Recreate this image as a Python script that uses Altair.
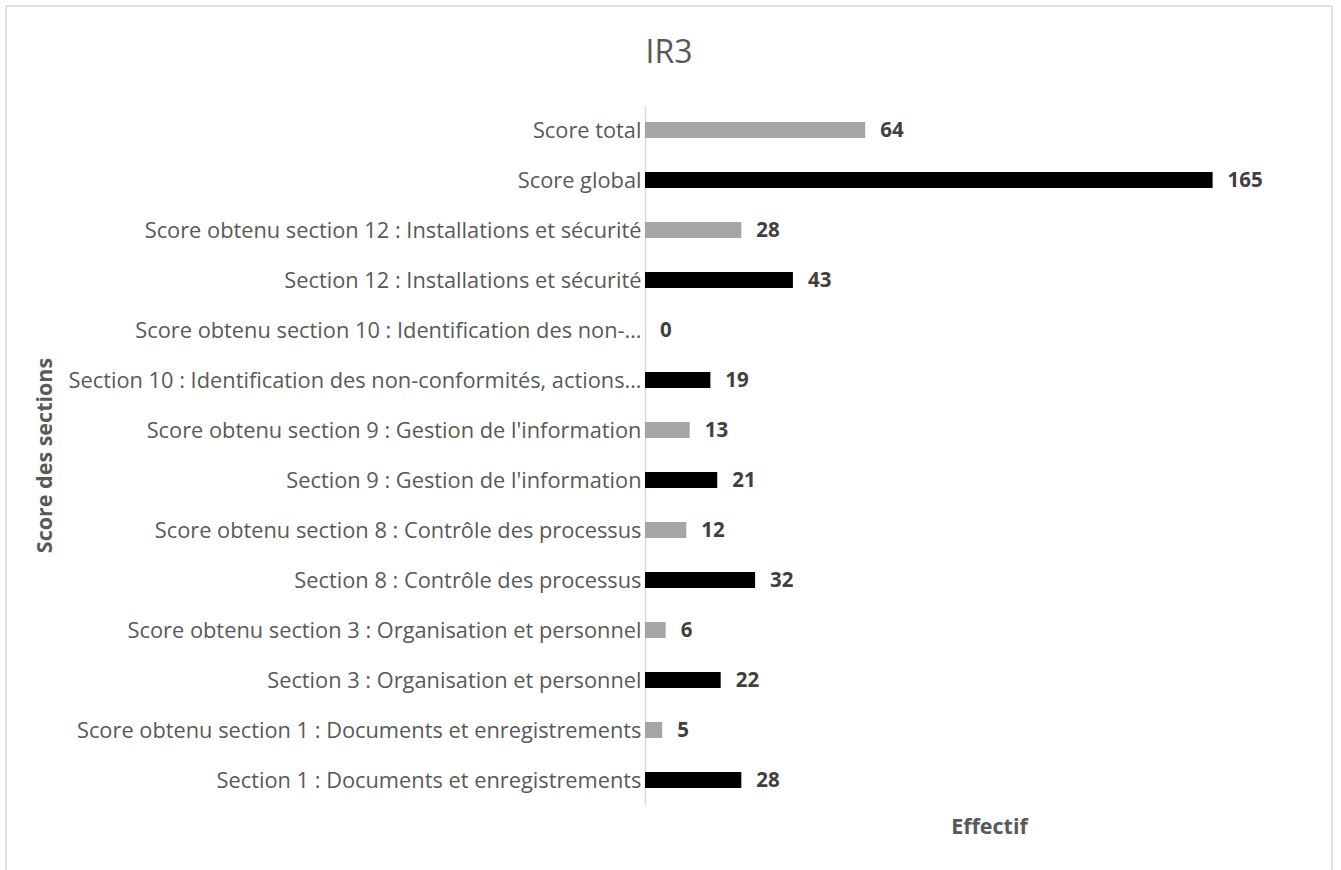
import altair as alt
import pandas as pd

categories = [
    "Score total",
    "Score global",
    "Score obtenu section 12 : Installations et sécurité ",
    "Section 12 : Installations et sécurité",
    "Score obtenu section 10 : Identification des non-…",
    "Section 10 : Identification des non-conformités, actions…",
    "Score obtenu section 9 : Gestion de l'information",
    "Section 9 : Gestion de l'information",
    "Score obtenu section 8 : Contrôle des processus",
    "Section 8 : Contrôle des processus",
    "Score obtenu section 3 : Organisation et personnel",
    "Section 3 : Organisation et personnel",
    "Score obtenu section 1 : Documents et enregistrements",
    "Section 1 : Documents et enregistrements",
]
values = [64, 165, 28, 43, 0, 19, 13, 21, 12, 32, 6, 22, 5, 28]
kinds = ["obtenu", "max"] * 7
title_text = ["IR3"]

df = pd.DataFrame({"cat": categories, "val": values, "kind": kinds})

FONT = "Open Sans"
W, H = 688, 700

y_enc = alt.Y(
    "cat:N", sort=categories,
    scale=alt.Scale(paddingInner=0.68, paddingOuter=0.34),
    axis=alt.Axis(
        title="Score des sections", titleFont=FONT, titleFontSize=21.5,
        titleFontWeight="bold", titleColor="#595959",
        titleX=-600, titleY=350, titleAngle=-90, titleBaseline="middle",
        titleAlign="center",
        labelFont=FONT, labelFontSize=21.8, labelColor="#595959",
        labelPadding=4, labelLimit=700, labelOffset=1,
        ticks=False, domainColor="#d9d9d9", domainWidth=1.5, grid=False,
    ),
)
x_enc = alt.X(
    "val:Q", scale=alt.Scale(domain=[0, 200], nice=False),
    axis=alt.Axis(
        title="Effectif", titleFont=FONT, titleFontSize=21.5, titleFontWeight="bold",
        titleColor="#595959", labels=False, ticks=False, domain=False, grid=False,
        titlePadding=11,
    ),
)

base = alt.Chart(df)
bars = base.mark_bar().encode(
    y=y_enc, x=x_enc,
    color=alt.Color("kind:N", scale=alt.Scale(domain=["obtenu", "max"], range=["#a5a5a5", "#000000"]), legend=None),
)
labels = base.mark_text(
    align="left", baseline="middle", dx=15, dy=1, font=FONT, fontSize=20.5,
    fontWeight="bold", color="#404040",
).encode(y=alt.Y("cat:N", sort=categories), x="val:Q", text="val:Q")

one = pd.DataFrame({"t": title_text})
frame = alt.Chart(one).mark_rect(
    fill=None, stroke="#d9d9d9", strokeWidth=1.5
).encode(
    x=alt.value(-639), x2=alt.value(W - 1), y=alt.value(-99), y2=alt.value(H + 80)
)
title = alt.Chart(one).mark_text(
    font=FONT, fontSize=32, color="#595959", align="center", baseline="alphabetic",
).encode(text="t:N", x=alt.value(24), y=alt.value(-42))

chart = alt.layer(frame, title, bars, labels).properties(
    width=W, height=H,
    background="white",
    autosize=alt.AutoSizeParams(type="none"),
    padding={"left": 645, "top": 105, "right": 8, "bottom": 65},
).configure_view(strokeWidth=0, stroke="transparent")

chart.save("out.html", embed_options={"renderer": "svg", "actions": False})
